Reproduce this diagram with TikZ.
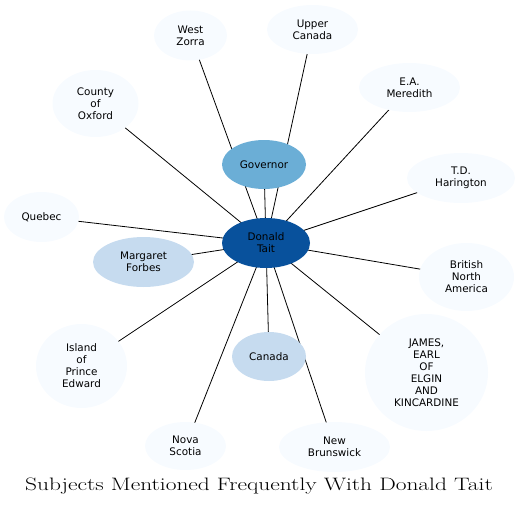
\documentclass[tikz,border=0pt]{standalone}
\usepackage{fontspec}
\newfontfamily\nodefont{DejaVu Sans}
\usetikzlibrary{shapes.geometric}
\pgfdeclarelayer{bg}
\pgfsetlayers{bg,main}
\definecolor{b1}{HTML}{F7FBFF}
\definecolor{b3}{HTML}{C6DBEF}
\definecolor{b5}{HTML}{6BAED6}
\definecolor{b8}{HTML}{08519C}
\tikzset{
  ent/.style={ellipse, inner sep=0pt, fill=b1, align=center,
    font=\nodefont\fontsize{10.4}{12}\selectfont, text=black},
  mid/.style={ent, fill=b3},
  gov/.style={ent, fill=b5},
  hub/.style={ent, fill=b8},
  link/.style={draw=black, line width=0.8pt},
  ttl/.style={font=\fontsize{18}{21}\selectfont, xscale=1.3, anchor=base}
}
\begin{document}
\begin{tikzpicture}[x=1pt,y=-1pt]
\useasboundingbox (0,0) rectangle (521,508);
\node[hub, minimum width=88, minimum height=50] (dt) at (266,243) {Donald\\Tait};
\node[gov, minimum width=84, minimum height=49] (gv) at (264,164.5) {Governor};
\node[ent, minimum width=73, minimum height=50] (wz) at (190.5,35.5) {West\\Zorra};
\node[ent, minimum width=91, minimum height=49] (uc) at (312.5,29.5) {Upper\\Canada};
\node[ent, minimum width=101, minimum height=49] (em) at (409.5,87.5) {E.A.\\Meredith};
\node[ent, minimum width=86, minimum height=67] (co) at (95.5,103.5) {County\\of\\Oxford};
\node[ent, minimum width=108, minimum height=50] (th) at (461,178) {T.D.\\Harington};
\node[ent, minimum width=75, minimum height=50] (qb) at (41.5,217) {Quebec};
\node[mid, minimum width=101, minimum height=50] (mf) at (143.5,262) {Margaret\\Forbes};
\node[ent, minimum width=95, minimum height=68] (bn) at (466.5,277) {British\\North\\America};
\node[ent, minimum width=91, minimum height=84] (ip) at (81.5,366) {Island\\of\\Prince\\Edward};
\node[mid, minimum width=74, minimum height=49] (ca) at (269,356.5) {Canada};
\node[ent, minimum width=123, minimum height=117] (je) at (426.5,372.5) {JAMES,\\EARL\\OF\\ELGIN\\AND\\KINCARDINE};
\node[ent, minimum width=81, minimum height=48] (ns) at (185.5,446) {Nova\\Scotia};
\node[ent, minimum width=111, minimum height=50] (nb) at (334.5,447) {New\\Brunswick};
\node[ttl] (title) at (259,490) {Subjects Mentioned Frequently With Donald Tait};
\begin{pgfonlayer}{bg}
\foreach \t in {gv,wz,uc,em,co,th,qb,mf,bn,ip,ca,je,ns,nb}
  \draw[link] (dt.center) -- (\t.center);
\end{pgfonlayer}
\end{tikzpicture}
\end{document}
